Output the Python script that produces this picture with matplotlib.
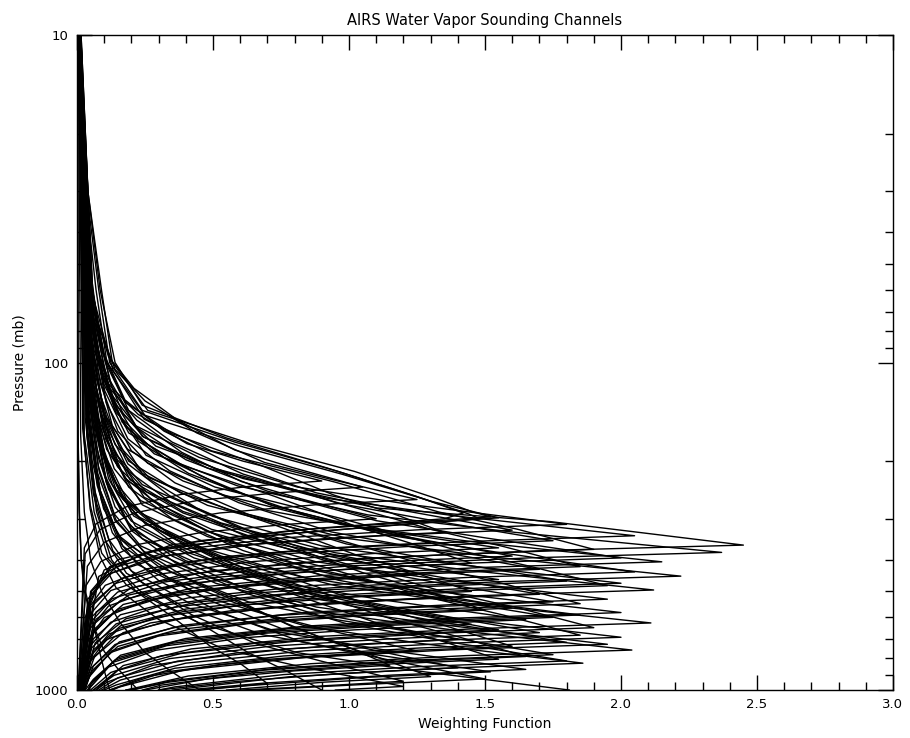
import matplotlib
matplotlib.use("Agg")
import matplotlib.pyplot as plt
from matplotlib.ticker import FixedLocator, FixedFormatter, MultipleLocator, LogLocator, NullFormatter

# weighting function profiles, one list of (pressure mb, weight) per channel
profiles = [
    [(10,.008),(38,.018),(66,.036),(92,.063),(115,.11),(144,.225),(177,.405),(200,.61),(230,.9),(239,.63),(253,.38),(276,.18),(311,.07),(368,.027),(1000,.005)],
    [(10,.01),(40,.032),(69,.063),(96,.116),(120,.21),(150,.37),(185,.58),(209,.79),(240,1.05),(250,.735),(264,.44),(288,.21),(324,.084),(384,.03),(1000,.005)],
    [(10,.012),(44,.038),(75,.075),(105,.14),(131,.25),(164,.44),(202,.69),(228,.94),(262,1.25),(272,.875),(288,.525),(314,.25),(354,.1),(419,.038),(1000,.006)],
    [(10,.015),(30,.04),(60,.09),(100,.13),(140,.26),(175,.62),(215,1.02),(260,1.32),(285,1.45),(296,1.52),(305,1.3),(325,.8),(360,.35),(420,.12),(550,.04),(1000,.01)],
    [(10,.012),(30,.035),(60,.08),(100,.12),(140,.24),(175,.58),(215,.96),(260,1.27),(290,1.44),(300,1.48),(310,1.25),(335,.75),(370,.3),(430,.1),(600,.03),(1000,.01)],
    [(10,.01),(30,.03),(60,.07),(100,.11),(145,.25),(180,.6),(220,.98),(265,1.3),(298,1.55),(312,1.2),(340,.65),(380,.25),(450,.08),(1000,.01)],
    [(10,.014),(30,.04),(60,.085),(100,.14),(135,.24),(170,.55),(210,.92),(255,1.24),(288,1.42),(300,1.35),(320,.9),(350,.45),(400,.15),(500,.05),(1000,.01)],
    [(10,.01),(50,.033),(86,.066),(120,.121),(150,.22),(188,.385),(231,.605),(261,.825),(300,1.1),(312,.77),(330,.46),(360,.22),(405,.088),(480,.033),(1000,.006)],
    [(10,.01),(52,.036),(89,.072),(125,.126),(156,.216),(195,.45),(240,.81),(271,1.22),(312,1.8),(324,1.26),(343,.76),(374,.36),(421,.144),(499,.054),(1000,.008)],
    [(10,.012),(54,.048),(93,.096),(130,.176),(162,.32),(203,.56),(250,.88),(283,1.2),(325,1.6),(338,1.12),(358,.67),(390,.32),(439,.128),(520,.048),(1000,.008)],
    [(10,.012),(55,.04),(94,.095),(132,.176),(165,.35),(206,.675),(254,.945),(287,1.15),(330,1.35),(343,.95),(363,.57),(396,.27),(446,.108),(528,.04),(1000,.008)],
    [(10,.01),(56,.041),(97,.082),(135,.144),(169,.246),(211,.51),(260,.92),(294,1.39),(338,2.05),(352,1.44),(372,.86),(406,.41),(456,.164),(541,.06),(1000,.01)],
    [(10,.012),(58,.053),(100,.105),(140,.19),(175,.35),(219,.61),(269,.96),(304,1.31),(350,1.75),(364,1.23),(385,.735),(420,.35),(473,.14),(560,.05),(1000,.01)],
    [(10,.01),(59,.039),(101,.078),(142,.143),(178,.26),(222,.455),(273,.715),(309,.975),(355,1.3),(369,.91),(391,.55),(426,.26),(479,.104),(568,.039),(1000,.008)],
    [(10,.01),(60,.049),(103,.098),(144,.17),(180,.29),(226,.61),(278,1.1),(306,1.74),(361,2.45),(375,1.72),(397,1.03),(433,.49),(487,.2),(578,.07),(1000,.01)],
    [(10,.008),(61,.031),(105,.062),(147,.109),(184,.186),(230,.39),(283,.7),(320,1.05),(368,1.55),(383,1.09),(405,.65),(442,.31),(497,.124),(589,.047),(1000,.01)],
    [(10,.015),(62,.057),(106,.133),(149,.247),(186,.494),(232,.95),(286,1.33),(323,1.62),(372,1.9),(387,1.33),(409,.8),(446,.38),(502,.15),(595,.057),(1000,.01)],
    [(10,.01),(63,.047),(109,.095),(152,.166),(190,.284),(238,.59),(292,1.07),(330,1.61),(380,2.37),(395,1.66),(418,1.0),(456,.47),(513,.19),(608,.07),(1000,.012)],
    [(10,.01),(65,.048),(111,.096),(156,.176),(195,.32),(244,.56),(300,.88),(339,1.2),(390,1.6),(406,1.12),(429,.67),(468,.32),(527,.128),(624,.048),(1000,.01)],
    [(10,.012),(66,.06),(113,.12),(158,.22),(198,.4),(247,.7),(304,1.1),(343,1.5),(395,2.0),(411,1.4),(435,.84),(474,.4),(533,.16),(632,.06),(1000,.012)],
    [(10,.008),(68,.043),(116,.086),(162,.15),(203,.26),(254,.54),(312,.97),(353,1.46),(406,2.15),(422,1.5),(447,.9),(487,.43),(548,.17),(650,.065),(1000,.015)],
    [(10,.012),(68,.044),(117,.1),(164,.19),(205,.38),(256,.725),(315,1.02),(357,1.23),(410,1.45),(426,1.02),(451,.61),(492,.29),(554,.116),(656,.044),(1000,.012)],
    [(10,.014),(70,.056),(120,.13),(168,.24),(210,.48),(263,.925),(323,1.3),(365,1.57),(420,1.85),(437,1.3),(462,.78),(504,.37),(567,.15),(672,.056),(1000,.015)],
    [(10,.01),(71,.051),(122,.102),(171,.187),(214,.34),(268,.595),(329,.935),(372,1.28),(428,1.7),(445,1.19),(471,.71),(514,.34),(578,.136),(685,.05),(1000,.015)],
    [(10,.012),(73,.062),(125,.123),(174,.226),(218,.41),(273,.72),(335,1.13),(379,1.54),(436,2.05),(453,1.44),(480,.86),(523,.41),(589,.16),(698,.06),(1000,.015)],
    [(10,.01),(74,.038),(127,.075),(178,.14),(223,.25),(278,.44),(342,.69),(387,.94),(445,1.25),(463,.875),(490,.525),(534,.25),(601,.1),(712,.038),(1000,.012)],
    [(10,.008),(75,.044),(128,.089),(180,.155),(225,.266),(281,.555),(345,1.0),(391,1.51),(449,2.22),(467,1.55),(494,.93),(539,.44),(606,.18),(718,.067),(1000,.018)],
    [(10,.007),(77,.031),(131,.062),(184,.109),(230,.186),(288,.39),(354,.7),(400,1.05),(460,1.55),(478,1.09),(506,.65),(552,.31),(621,.124),(736,.047),(1000,.015)],
    [(10,.01),(78,.054),(133,.108),(186,.2),(233,.36),(291,.63),(358,.99),(405,1.35),(465,1.8),(484,1.26),(512,.76),(558,.36),(628,.144),(744,.054),(1000,.018)],
    [(10,.008),(79,.04),(135,.08),(189,.14),(236,.24),(295,.5),(363,.9),(410,1.36),(472,2.0),(491,1.4),(519,.84),(566,.4),(637,.16),(755,.06),(1000,.018)],
    [(10,.014),(80,.059),(137,.137),(192,.254),(240,.507),(300,.975),(369,1.37),(418,1.66),(480,1.95),(499,1.37),(528,.82),(576,.39),(648,.156),(768,.06),(1000,.02)],
    [(10,.008),(83,.042),(141,.085),(198,.148),(248,.254),(309,.53),(381,.95),(431,1.44),(495,2.12),(515,1.48),(545,.89),(594,.42),(668,.17),(792,.064),(1000,.02)],
    [(10,.012),(83,.044),(143,.1),(200,.19),(250,.38),(313,.725),(385,1.02),(435,1.23),(500,1.45),(520,1.02),(550,.61),(600,.29),(675,.116),(800,.044),(1000,.02)],
    [(10,.01),(85,.051),(146,.102),(204,.187),(255,.34),(319,.595),(392,.935),(444,1.28),(510,1.7),(530,1.19),(561,.71),(612,.34),(689,.136),(816,.05),(1000,.02)],
    [(10,.01),(87,.04),(149,.081),(208,.149),(260,.27),(325,.47),(400,.74),(452,1.01),(520,1.35),(541,.945),(572,.57),(624,.27),(702,.108),(832,.04),(1000,.02)],
    [(10,.008),(88,.039),(151,.078),(211,.137),(264,.234),(330,.49),(406,.88),(459,1.33),(528,1.95),(549,1.37),(581,.82),(634,.39),(713,.156),(845,.06),(1000,.025)],
    [(10,.01),(90,.053),(154,.105),(215,.19),(269,.35),(336,.61),(414,.96),(468,1.31),(538,1.75),(560,1.23),(592,.735),(646,.35),(726,.14),(861,.05),(1000,.025)],
    [(10,.014),(91,.056),(156,.13),(218,.24),(273,.48),(341,.925),(419,1.3),(474,1.57),(545,1.85),(567,1.3),(600,.78),(654,.37),(736,.15),(872,.056),(1000,.025)],
    [(10,.01),(94,.048),(161,.096),(225,.176),(281,.32),(351,.56),(432,.88),(489,1.2),(562,1.6),(584,1.12),(618,.67),(674,.32),(759,.128),(899,.048),(1000,.025)],
    [(10,.012),(95,.045),(163,.105),(228,.195),(285,.39),(356,.75),(438,1.05),(496,1.28),(570,1.5),(593,1.05),(627,.63),(684,.3),(770,.12),(912,.045),(1000,.03)],
    [(10,.008),(97,.04),(166,.08),(232,.14),(290,.24),(363,.5),(446,.9),(504,1.36),(580,2.0),(603,1.4),(638,.84),(696,.4),(783,.16),(928,.06),(1000,.03)],
    [(10,.008),(98,.037),(169,.074),(236,.13),(295,.223),(369,.465),(454,.84),(513,1.26),(590,1.85),(614,1.3),(649,.78),(708,.37),(797,.15),(944,.056),(1000,.04)],
    [(10,.01),(100,.053),(171,.105),(240,.19),(300,.35),(375,.61),(462,.96),(522,1.31),(600,1.75),(624,1.23),(660,.735),(720,.35),(810,.14),(960,.05),(1000,.04)],
    [(10,.008),(102,.033),(174,.066),(244,.116),(305,.2),(381,.41),(469,.74),(530,1.12),(610,1.65),(634,1.16),(671,.69),(732,.33),(824,.13),(976,.05),(1000,.045)],
    [(10,.008),(104,.042),(178,.084),(250,.148),(312,.253),(390,.53),(480,.95),(543,1.43),(624,2.11),(649,1.48),(686,.89),(749,.42),(842,.17),(1000,.06)],
    [(10,.01),(105,.044),(180,.087),(252,.16),(315,.29),(394,.51),(485,.8),(548,1.09),(630,1.45),(655,1.02),(693,.61),(756,.29),(851,.116),(1000,.04)],
    [(10,.014),(108,.057),(184,.133),(258,.247),(323,.494),(403,.95),(496,1.33),(561,1.62),(645,1.9),(671,1.33),(710,.8),(774,.38),(871,.15),(1000,.07)],
    [(10,.01),(109,.047),(187,.093),(262,.17),(328,.31),(409,.54),(504,.85),(570,1.16),(655,1.55),(681,1.09),(721,.65),(786,.31),(884,.124),(1000,.05)],
    [(10,.01),(111,.051),(191,.102),(267,.187),(334,.34),(418,.595),(514,.935),(581,1.28),(668,1.7),(695,1.19),(735,.71),(802,.34),(902,.136),(1000,.06)],
    [(10,.014),(113,.056),(194,.13),(272,.24),(340,.48),(425,.925),(523,1.3),(591,1.57),(680,1.85),(707,1.3),(748,.78),(816,.37),(918,.15),(1000,.08)],
    [(10,.008),(115,.04),(197,.08),(276,.14),(345,.24),(431,.5),(531,.9),(600,1.36),(690,2.0),(718,1.4),(759,.84),(828,.4),(932,.16),(1000,.09)],
    [(10,.007),(117,.028),(200,.056),(280,.098),(350,.168),(438,.35),(538,.63),(609,.95),(700,1.4),(728,.98),(770,.59),(840,.28),(945,.112),(1000,.07)],
    [(10,.01),(119,.054),(204,.108),(286,.2),(358,.36),(447,.63),(550,.99),(622,1.35),(715,1.8),(744,1.26),(787,.76),(858,.36),(965,.144),(1000,.1)],
    [(10,.008),(121,.039),(207,.078),(290,.137),(363,.234),(453,.49),(558,.88),(630,1.33),(725,1.95),(754,1.37),(798,.82),(870,.39),(979,.156),(1000,.13)],
    [(10,.012),(123,.048),(210,.112),(294,.208),(368,.416),(459,.8),(565,1.12),(639,1.36),(735,1.6),(764,1.12),(809,.67),(882,.32),(1000,.12)],
    [(10,.008),(126,.041),(216,.082),(302,.143),(378,.245),(472,.51),(581,.92),(657,1.39),(755,2.04),(785,1.43),(831,.86),(906,.41),(1000,.18)],
    [(10,.009),(127,.038),(217,.075),(304,.14),(380,.25),(475,.44),(585,.69),(661,.94),(760,1.25),(790,.875),(836,.525),(912,.25),(1000,.12)],
    [(10,.01),(130,.053),(223,.105),(312,.19),(390,.35),(488,.61),(600,.96),(678,1.31),(780,1.75),(811,1.23),(858,.735),(936,.35),(1000,.2)],
    [(10,.012),(132,.05),(226,.116),(316,.215),(395,.43),(494,.825),(608,1.16),(687,1.4),(790,1.65),(822,1.16),(869,.69),(948,.33),(1000,.2)],
    [(10,.012),(134,.047),(230,.109),(322,.2),(403,.4),(503,.775),(619,1.09),(700,1.32),(805,1.55),(837,1.09),(886,.65),(966,.31),(1000,.24)],
    [(10,.01),(136,.054),(233,.108),(326,.2),(408,.36),(509,.63),(627,.99),(709,1.35),(815,1.8),(848,1.26),(897,.76),(978,.36),(1000,.3)],
    [(10,.008),(138,.037),(237,.074),(331,.13),(414,.223),(518,.465),(637,.84),(720,1.26),(828,1.86),(861,1.3),(911,.78),(1000,.35)],
    [(10,.01),(140,.035),(240,.08),(336,.15),(420,.3),(525,.575),(646,.8),(730,.98),(840,1.15),(874,.8),(924,.48),(1000,.25)],
    [(10,.01),(143,.042),(244,.084),(342,.154),(428,.28),(534,.49),(658,.77),(743,1.05),(855,1.4),(889,.98),(941,.59),(1000,.3)],
    [(10,.008),(144,.033),(247,.066),(346,.116),(433,.2),(541,.41),(665,.74),(752,1.12),(865,1.65),(900,1.16),(952,.69),(1000,.4)],
    [(10,.007),(147,.03),(251,.06),(352,.106),(440,.182),(550,.38),(677,.68),(765,1.03),(880,1.52),(915,1.06),(968,.64),(1000,.45)],
    [(10,.01),(152,.039),(260,.091),(364,.169),(455,.338),(569,.65),(700,.91),(791,1.1),(910,1.3),(946,.91),(1000,.55)],
    [(10,.01),(154,.045),(264,.09),(370,.165),(463,.3),(578,.525),(712,.825),(804,1.13),(925,1.5),(962,1.05),(1000,.65)],
    [(10,.008),(157,.036),(269,.072),(376,.132),(470,.24),(588,.42),(723,.66),(817,.9),(940,1.2),(978,.84),(1000,.6)],
    [(10,.006),(159,.021),(273,.049),(382,.091),(478,.182),(597,.35),(735,.49),(830,.6),(955,.7),(990,.5),(1000,.45)],
    [(10,.006),(163,.024),(279,.048),(390,.084),(488,.144),(609,.3),(750,.54),(848,.82),(975,1.2),(1000,.95)],
    [(10,.008),(167,.036),(286,.072),(400,.127),(500,.217),(625,.45),(769,.81),(870,1.23),(1000,1.81)],
    [(10,.006),(167,.027),(286,.063),(400,.117),(500,.234),(625,.45),(769,.63),(870,.765),(1000,.9)],
    [(10,.005),(167,.0135),(286,.027),(400,.05),(500,.09),(625,.16),(769,.25),(870,.34),(1000,.45)],
    [(10,.003),(165,.004),(283,.009),(396,.015),(495,.026),(619,.055),(762,.1),(861,.15),(990,.22),(1000,.18)],
    [(10,.002),(167,.004),(286,.008),(400,.016),(500,.031),(625,.06),(769,.084),(870,.1),(1000,.12)],
]

title = "AIRS Water Vapor Sounding Channels"
xlabel = "Weighting Function"
ylabel = "Pressure (mb)"
y_major = [10, 100, 1000]
y_labels = ["10", "100", "1000"]

fig = plt.figure(figsize=(9.1, 7.38), dpi=100)
ax = fig.add_axes([0.0846, 0.065, 0.8967, 0.8876])

for prof in profiles:
    p, w = zip(*prof)
    ax.plot(w, p, color="black", lw=1.0)

ax.set_yscale("log")
ax.set_ylim(1000, 10)
ax.set_xlim(0, 3.0)

ax.yaxis.set_major_locator(FixedLocator(y_major))
ax.yaxis.set_major_formatter(FixedFormatter(y_labels))
ax.yaxis.set_minor_locator(LogLocator(base=10, subs=range(2, 10)))
ax.yaxis.set_minor_formatter(NullFormatter())
ax.xaxis.set_major_locator(MultipleLocator(0.5))
ax.xaxis.set_minor_locator(MultipleLocator(0.1))
ax.xaxis.set_major_formatter(plt.FormatStrFormatter("%.1f"))

ax.tick_params(which="both", direction="in", top=True, right=True, width=1, labelsize=9.5)
ax.tick_params(which="major", length=11, pad=6)
ax.tick_params(which="minor", length=6)
for s in ax.spines.values():
    s.set_linewidth(1)

ax.set_title(title, fontsize=10.5, pad=7)
ax.set_xlabel(xlabel, fontsize=10, labelpad=4)
ax.set_ylabel(ylabel, fontsize=10, labelpad=6)

fig.savefig("out.png", dpi=100)
